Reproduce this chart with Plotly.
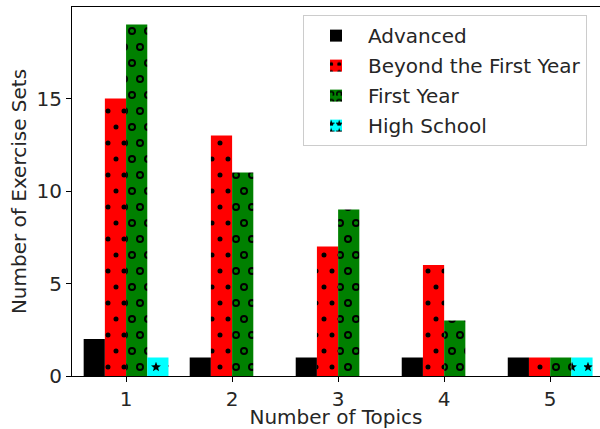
import math
import plotly.graph_objects as go

categories = [1, 2, 3, 4, 5]
advanced = [2, 1, 1, 1, 1]
beyond_first_year = [15, 13, 7, 6, 1]
first_year = [19, 11, 9, 3, 1]
high_school = [1, 0, 0, 0, 1]

series_names = ["Advanced", "Beyond the First Year", "First Year", "High School"]
series_colors = ["#000000", "#ff0000", "#008000", "#00ffff"]
tick_vals_y = [0, 5, 10, 15]

FONT = "DejaVu Sans"
TILE = 32
LATTICE = [(4, 8), (20, 8), (12, 24), (28, 24)]


def circle(cx, cy, r, sweep):
    return (f"M{cx - r},{cy} a{r},{r} 0 1,{sweep} {2 * r},0 "
            f"a{r},{r} 0 1,{sweep} {-2 * r},0 Z")


def star(cx, cy, ro, ri):
    pts = []
    for k in range(10):
        ang = -math.pi / 2 + k * math.pi / 5
        r = ro if k % 2 == 0 else ri
        pts.append(f"{cx + r * math.cos(ang):.2f},{cy + r * math.sin(ang):.2f}")
    return "M" + " L".join(pts) + " Z"


dot_path = " ".join(circle(x, y, 2.5, 1) for x, y in LATTICE)
ring_path = " ".join(circle(x, y, 4.0, 1) + " " + circle(x, y, 2.1, 0) for x, y in LATTICE)
star_path = " ".join(star(x, y, 5.2, 2.2) for x, y in LATTICE)

patterns = [None, dot_path, ring_path, star_path]
values = [advanced, beyond_first_year, first_year, high_school]

fig = go.Figure()
for i, (name, col, vals, pth) in enumerate(zip(series_names, series_colors, values, patterns)):
    marker = dict(color=col, line=dict(width=0))
    if pth is not None:
        marker["pattern"] = dict(path=pth, size=TILE, fgcolor="#000000", bgcolor=col,
                                 fgopacity=1, fillmode="replace")
    fig.add_trace(go.Bar(x=categories, y=vals, name=name, marker=marker,
                         legendgroup=f"g{i}"))

axis_common = dict(
    showgrid=False, zeroline=False, ticks="outside", ticklen=5, tickwidth=1.2,
    tickcolor="#000000", linecolor="#000000", linewidth=1.2, showline=True,
    automargin=False,
    tickfont=dict(family=FONT, size=20, color="#262626"),
)

fig.update_layout(
    width=600, height=429,
    margin=dict(l=72, r=0, t=7, b=53),
    paper_bgcolor="white", plot_bgcolor="white",
    barmode="group", bargap=0.2, bargroupgap=0,
    font=dict(family=FONT, size=20, color="#262626"),
    xaxis=dict(range=[0.49, 5.47], tickvals=categories, mirror=True,
               title=dict(text="Number of Topics", standoff=7,
                          font=dict(family=FONT, size=20, color="#262626")),
               **axis_common),
    yaxis=dict(range=[0, 19.95], tickvals=tick_vals_y,
               title=dict(text="Number of Exercise Sets", standoff=4,
                          font=dict(family=FONT, size=20, color="#262626")),
               **axis_common),
    legend=dict(x=0.4375, y=0.978, xanchor="left", yanchor="top",
                bgcolor="white", bordercolor="#cccccc", borderwidth=1,
                font=dict(family=FONT, size=20, color="#262626"),
                tracegroupgap=1, itemwidth=54),
    showlegend=True,
)

fig.write_html(
    "out.html",
    config={"displayModeBar": False},
    post_script="document.body.style.margin='0';document.body.style.overflow='hidden';",
)
